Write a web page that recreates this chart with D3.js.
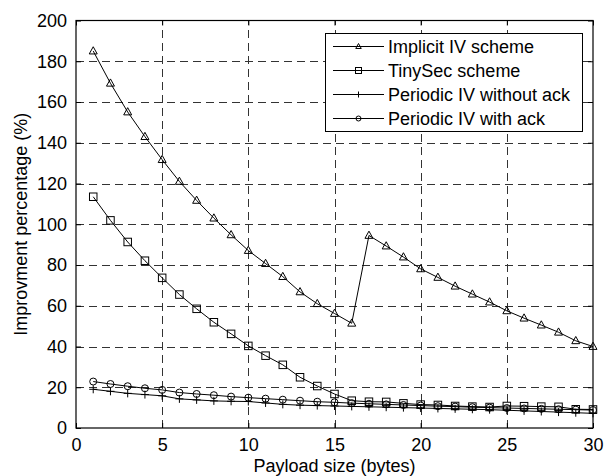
<!DOCTYPE html>
<html>
<head>
<meta charset="utf-8">
<script src="https://cdn.jsdelivr.net/npm/d3@7"></script>
<style>
  html, body { margin: 0; padding: 0; background: #fff; }
  svg { display: block; font-family: "Liberation Sans", Arial, sans-serif; }
</style>
</head>
<body>
<svg id="chart" width="605" height="476"></svg>
<script>
// Payload sizes in bytes
const payload = d3.range(1, 31);

// Improvement percentage per scheme
const implicitIV = [185, 169.2, 155.1, 143, 131.7, 121, 111.7, 103, 94.8, 87.1,
  80.7, 74.3, 66.8, 61, 56.2, 51.4, 94.5, 89.3, 83.9, 78.1,
  73.9, 69.6, 65.7, 61.8, 57.5, 53.9, 50.5, 47, 42.8, 40];
const tinySec = [113.5, 101.9, 91.3, 82.1, 73.7, 65.5, 58.5, 51.9, 46.2, 40.3,
  35.5, 31, 24.9, 20.6, 16.7, 13.4, 12.9, 12.8, 12.1, 11.5,
  11.3, 10.8, 10.5, 10.3, 10.8, 10.7, 10.5, 10.4, 9.2, 9.1];
const periodicNoAck = [19, 18, 17, 16.4, 15.8, 14.3, 13.8, 13.3, 13.1, 13,
  12.3, 11.6, 11.2, 11, 10.8, 10.6, 10.4, 10.2, 10, 9.8,
  9.6, 9.4, 9.2, 9.0, 8.7, 8.4, 8.1, 7.8, 7.5, 7.2];
const periodicAck = [22.8, 21.6, 20.5, 19.5, 18.7, 17.4, 16.7, 16.1, 15.4, 14.9,
  14.4, 13.9, 13.4, 12.9, 12.6, 12.2, 11.9, 11.6, 11.3, 11,
  10.7, 10.5, 10.2, 10, 9.8, 9.6, 9.4, 9.2, 9.0, 8.8];

const seriesNames = ["Implicit IV scheme", "TinySec scheme", "Periodic IV without ack", "Periodic IV with ack"];
const seriesValues = [implicitIV, tinySec, periodicNoAck, periodicAck];
const markerKinds = ["triangle", "square", "plus", "circle"];

const xTicks = [0, 5, 10, 15, 20, 25, 30];
const yTicks = [0, 20, 40, 60, 80, 100, 120, 140, 160, 180, 200];

const xLabel = "Payload size (bytes)";
const yLabel = "Improvment percentage (%)";

const svg = d3.select("#chart");
const plotLeft = 76, plotRight = 593, plotTop = 20.5, plotBottom = 428;

const x = d3.scaleLinear().domain([0, 30]).range([plotLeft, plotRight]);
const y = d3.scaleLinear().domain([0, 200]).range([plotBottom, plotTop]);

// Dashed grid
const grid = svg.append("g").attr("stroke", "#333").attr("stroke-width", 1)
  .attr("stroke-dasharray", "8,5").attr("shape-rendering", "crispEdges");
grid.selectAll("line.gx").data(xTicks.slice(1, -1)).join("line")
  .attr("x1", d => Math.round(x(d)) + 0.5).attr("x2", d => Math.round(x(d)) + 0.5)
  .attr("y1", plotBottom).attr("y2", plotTop);
grid.selectAll("line.gy").data(yTicks.slice(1, -1)).join("line")
  .attr("y1", d => Math.round(y(d)) + 0.5).attr("y2", d => Math.round(y(d)) + 0.5)
  .attr("x1", plotLeft).attr("x2", plotRight);

// Axes with inward ticks on all four sides
const fontSize = 18;
function styleAxis(g) {
  g.select(".domain").remove();
  g.selectAll(".tick line").attr("stroke", "#000");
  g.selectAll(".tick text").attr("font-size", fontSize).attr("fill", "#000")
    .attr("font-family", "Liberation Sans, Arial, sans-serif");
}
svg.append("g").attr("transform", `translate(0,${plotBottom})`)
  .call(d3.axisBottom(x).tickValues(xTicks).tickSizeInner(-5).tickSizeOuter(0).tickPadding(10))
  .call(styleAxis);
svg.append("g").attr("transform", `translate(0,${plotTop})`)
  .call(d3.axisTop(x).tickValues(xTicks).tickSizeInner(-5).tickSizeOuter(0).tickFormat(""))
  .call(styleAxis);
svg.append("g").attr("transform", `translate(${plotLeft},0)`)
  .call(d3.axisLeft(y).tickValues(yTicks).tickSizeInner(-5).tickSizeOuter(0).tickPadding(9))
  .call(styleAxis);
svg.append("g").attr("transform", `translate(${plotRight},0)`)
  .call(d3.axisRight(y).tickValues(yTicks).tickSizeInner(-5).tickSizeOuter(0).tickFormat(""))
  .call(styleAxis);

svg.append("rect").attr("x", plotLeft).attr("y", plotTop)
  .attr("width", plotRight - plotLeft).attr("height", plotBottom - plotTop)
  .attr("fill", "none").attr("stroke", "#000").attr("stroke-width", 1.2);

// Marker drawing
function drawMarker(g, kind, cx, cy, s) {
  if (kind === "triangle") {
    const h = s * 0.9;
    g.append("path")
      .attr("d", `M${cx},${cy - h * 0.6}L${cx + s / 2},${cy + h * 0.4}L${cx - s / 2},${cy + h * 0.4}Z`)
      .attr("fill", "none").attr("stroke", "#000").attr("stroke-width", 1);
  } else if (kind === "square") {
    g.append("rect").attr("x", cx - s / 2).attr("y", cy - s / 2)
      .attr("width", s).attr("height", s)
      .attr("fill", "none").attr("stroke", "#000").attr("stroke-width", 1);
  } else if (kind === "circle") {
    g.append("circle").attr("cx", cx).attr("cy", cy).attr("r", s / 2)
      .attr("fill", "none").attr("stroke", "#000").attr("stroke-width", 1);
  } else if (kind === "plus") {
    g.append("path")
      .attr("d", `M${cx - s / 2},${cy}H${cx + s / 2}M${cx},${cy - s / 2}V${cy + s / 2}`)
      .attr("fill", "none").attr("stroke", "#000").attr("stroke-width", 1);
  }
}

const line = d3.line().x((d, i) => x(payload[i])).y(d => y(d));
const plotSizes = { triangle: 8, square: 7.5, circle: 7, plus: 8 };

seriesValues.forEach((vals, k) => {
  const g = svg.append("g");
  g.append("path").datum(vals).attr("d", line)
    .attr("fill", "none").attr("stroke", "#000").attr("stroke-width", 1);
  vals.forEach((v, i) => drawMarker(g, markerKinds[k], x(payload[i]), y(v), plotSizes[markerKinds[k]]));
});

// Legend
const lg = svg.append("g");
lg.append("rect").attr("x", 325.5).attr("y", 33.5).attr("width", 257).attr("height", 98)
  .attr("fill", "#fff").attr("stroke", "#000").attr("stroke-width", 1);
const legendSizes = { triangle: 5.5, square: 6, circle: 5, plus: 6 };
seriesNames.forEach((name, k) => {
  const cy = 46.5 + k * 24;
  lg.append("line").attr("x1", 333).attr("x2", 384).attr("y1", cy).attr("y2", cy)
    .attr("stroke", "#000").attr("stroke-width", 1);
  drawMarker(lg, markerKinds[k], 358.5, cy, legendSizes[markerKinds[k]]);
  lg.append("text").attr("x", 388).attr("y", cy).attr("dy", "0.35em")
    .attr("font-size", fontSize).attr("fill", "#000").text(name);
});

// Axis titles
svg.append("text").attr("x", (plotLeft + plotRight) / 2).attr("y", 466).attr("dy", "0.35em")
  .attr("text-anchor", "middle").attr("font-size", fontSize).text(xLabel);
svg.append("text").attr("transform", `translate(21,${(plotTop + plotBottom) / 2}) rotate(-90)`)
  .attr("dy", "0.35em").attr("text-anchor", "middle").attr("font-size", fontSize).text(yLabel);
</script>
</body>
</html>
